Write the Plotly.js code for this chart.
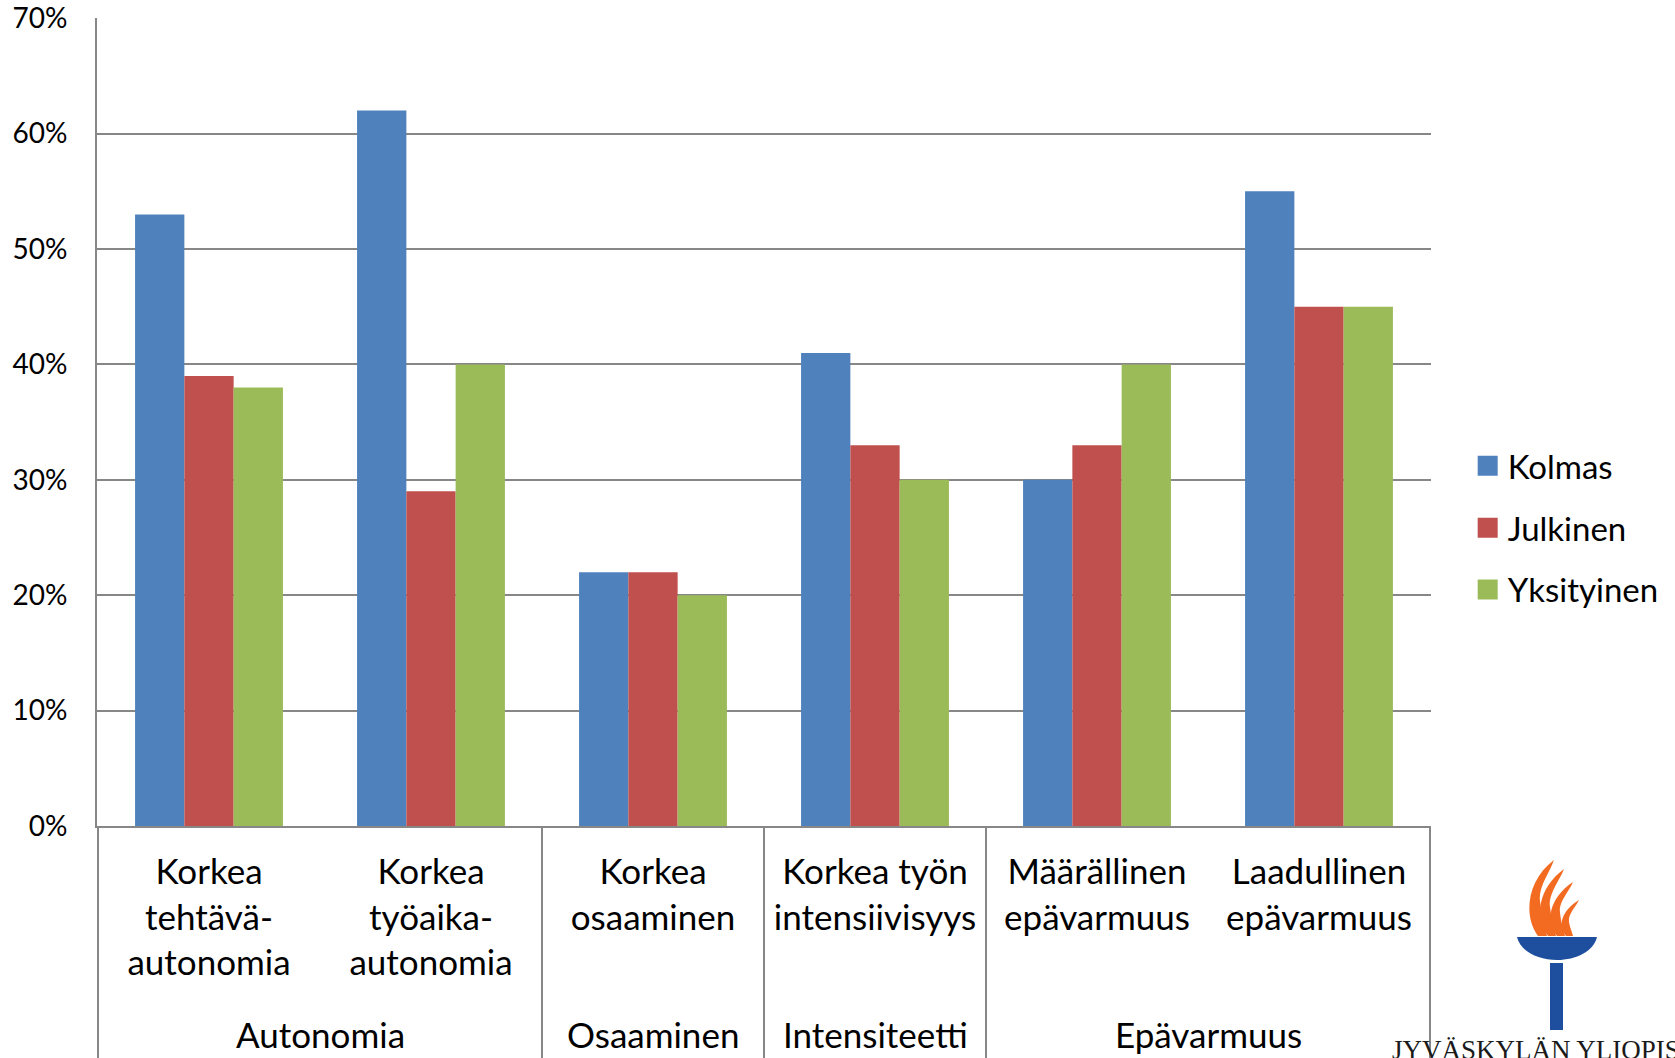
<!DOCTYPE html>
<html lang="fi">
<head>
<meta charset="utf-8">
<title>Työn piirteet sektoreittain</title>
<script src="https://cdn.plot.ly/plotly-3.0.1.min.js"></script>
<style>
  html, body { margin: 0; padding: 0; background: #ffffff; }
  #chart { width: 1675px; height: 1058px; }
</style>
</head>
<body>
<div id="chart"></div>
<script>
// Share of respondents (%) reporting each work characteristic, by sector
const subcategories = [
  'Korkea<br>tehtävä-<br>autonomia',
  'Korkea<br>työaika-<br>autonomia',
  'Korkea<br>osaaminen',
  'Korkea työn<br>intensiivisyys',
  'Määrällinen<br>epävarmuus',
  'Laadullinen<br>epävarmuus'
];
const groupNames = ['Autonomia', 'Osaaminen', 'Intensiteetti', 'Epävarmuus'];
const groupOf = [0, 0, 1, 2, 3, 3];

const seriesNames = ['Kolmas', 'Julkinen', 'Yksityinen'];
const kolmas     = [53, 62, 22, 41, 30, 55];
const julkinen   = [39, 29, 22, 33, 33, 45];
const yksityinen = [38, 40, 20, 30, 40, 45];

const yTicks = [0, 10, 20, 30, 40, 50, 60, 70];

const colors = ['#4F81BD', '#C0504D', '#9BBB59'];
const gridGrey = '#878787';
const FONT = 'Lato, "Open Sans", sans-serif';

const traces = [kolmas, julkinen, yksityinen].map((vals, k) => ({
  type: 'bar',
  name: seriesNames[k],
  legendgroup: seriesNames[k],
  x: subcategories,
  y: vals,
  marker: { color: colors[k], line: { width: 0 } },
  hovertemplate: '%{y}%<extra>' + seriesNames[k] + '</extra>'
}));

// Group dividers: axis ends plus every change of group along the category axis
const dividerPos = [-0.5];
for (let i = 1; i < groupOf.length; i++) {
  if (groupOf[i] !== groupOf[i - 1]) dividerPos.push(i - 0.5);
}
dividerPos.push(groupOf.length - 0.5);

const shapes = dividerPos.map(pos => ({
  type: 'line', xref: 'x', yref: 'paper',
  x0: pos, x1: pos, y0: 0, y1: -0.32,
  line: { color: gridGrey, width: 2 }
}));

// Group labels centred under their categories
const annotations = groupNames.map((g, gi) => {
  const idx = groupOf.map((v, i) => v === gi ? i : null).filter(v => v !== null);
  const centre = idx.reduce((a, b) => a + b, 0) / idx.length;
  return {
    text: g, xref: 'x', yref: 'paper', x: centre, y: -0.258,
    xanchor: 'center', yanchor: 'middle', showarrow: false,
    font: { family: FONT, size: 35, color: '#000000' }
  };
});

annotations.push({
  text: 'JYVÄSKYLÄN YLIOPISTO',
  xref: 'paper', yref: 'paper', x: (1390 - 97) / 1334, y: -0.2772,
  xanchor: 'left', yanchor: 'middle', showarrow: false,
  font: { family: '"Liberation Serif", "DejaVu Serif", serif', size: 27, color: '#1a1a1a' }
});

// University torch emblem
const torchSvg =
  '<svg xmlns="http://www.w3.org/2000/svg" viewBox="0 0 100 180">' +
  '<g fill="#F26B21">' +
  '<path d="M28,86 C13,66 17,30 44,10 C40,22 28,37 30,51 C31,63 34,74 37,86 Z"/>' +
  '<path d="M38,86 C24,68 28,38 54,19 C50,30 38,44 40,57 C41,68 44,77 46,86 Z"/>' +
  '<path d="M47,86 C35,72 39,48 63,32 C59,42 48,52 50,63 C51,72 53,79 55,86 Z"/>' +
  '<path d="M56,86 C47,76 52,60 69,50 C65,58 58,64 59,72 C60,78 62,82 63,86 Z"/>' +
  '</g>' +
  '<path fill="#1D4F9E" d="M7,87 H87 C84,101 66,110 47,110 C28,110 10,101 7,87 Z"/>' +
  '<rect fill="#1D4F9E" x="40" y="113" width="13" height="67"/>' +
  '</svg>';

const layout = {
  width: 1675,
  height: 1058,
  paper_bgcolor: '#ffffff',
  plot_bgcolor: '#ffffff',
  margin: { l: 97, r: 244, t: 18, b: 232, pad: 0, autoexpand: false },
  barmode: 'group',
  bargap: 0.334,
  bargroupgap: 0,
  font: { family: FONT, color: '#000000' },
  showlegend: true,
  legend: {
    x: 1.0275, xanchor: 'left',
    y: 0.369, yanchor: 'middle',
    traceorder: 'grouped',
    tracegroupgap: 16,
    bgcolor: 'rgba(0,0,0,0)',
    borderwidth: 0,
    font: { family: FONT, size: 33, color: '#000000' }
  },
  xaxis: {
    type: 'category',
    showgrid: false,
    showline: true,
    linecolor: gridGrey,
    linewidth: 2,
    ticks: '',
    ticklabelstandoff: 14,
    tickfont: { family: FONT, size: 35, color: '#000000' },
    fixedrange: true
  },
  yaxis: {
    range: [0, 70.02],
    tickvals: yTicks,
    ticktext: yTicks.map(v => v + '%'),
    showgrid: true,
    gridcolor: gridGrey,
    gridwidth: 2,
    zeroline: false,
    showline: true,
    linecolor: gridGrey,
    linewidth: 2,
    ticks: '',
    ticklabelstandoff: 22,
    tickfont: { family: FONT, size: 28, color: '#000000' },
    fixedrange: true
  },
  shapes: shapes,
  annotations: annotations,
  images: [{
    source: 'data:image/svg+xml;charset=utf-8,' + encodeURIComponent(torchSvg),
    xref: 'paper', yref: 'paper',
    x: (1510 - 97) / 1334, y: -24 / 808,
    sizex: 100 / 1334, sizey: 180 / 808,
    xanchor: 'left', yanchor: 'top',
    sizing: 'stretch', layer: 'above'
  }]
};

Plotly.newPlot('chart', traces, layout, { displayModeBar: false, staticPlot: true }).then(gd => {
  // larger square swatches in the legend
  gd.querySelectorAll('.legend .legendpoints path').forEach(p => {
    p.setAttribute('d', 'M10,10H-10V-10H10Z');
  });
});
</script>
</body>
</html>
